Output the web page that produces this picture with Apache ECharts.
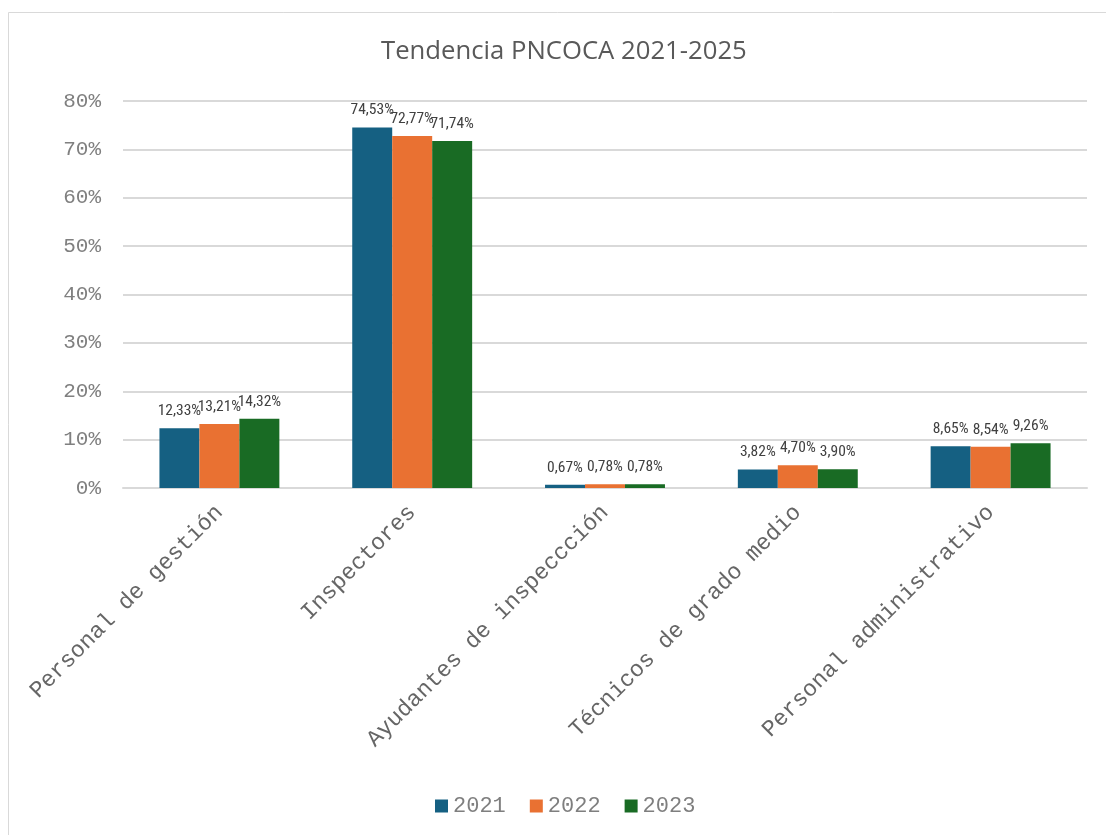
<!DOCTYPE html>
<html>
<head>
<meta charset="utf-8">
<script src="https://cdn.jsdelivr.net/npm/echarts@6/dist/echarts.min.js"></script>
<style>
html,body{margin:0;padding:0;background:#fff;}
#chart{width:1106px;height:835px;}
</style>
</head>
<body>
<div id="chart"></div>
<script>
const titleText = 'Tendencia PNCOCA 2021-2025';
const categories = ['Personal de gestión', 'Inspectores', 'Ayudantes de inspeccción', 'Técnicos de grado medio', 'Personal administrativo'];
const seriesNames = ['2021', '2022', '2023'];
const values2021 = [12.33, 74.53, 0.67, 3.82, 8.65];
const values2022 = [13.21, 72.77, 0.78, 4.70, 8.54];
const values2023 = [14.32, 71.74, 0.78, 3.90, 9.26];
const seriesColors = ['#156082', '#E97132', '#196B24'];

const allValues = [values2021, values2022, values2023];
const chart = echarts.init(document.getElementById('chart'), null, {renderer: 'canvas'});

const labelFont = '"Roboto Condensed", "Liberation Sans Narrow", "Arial Narrow", sans-serif';
const monoFont = '"Liberation Mono", "Courier New", monospace';

const series = seriesNames.map((name, i) => ({
  name: name,
  type: 'bar',
  data: allValues[i],
  barGap: '0%',
  barCategoryGap: '37.8%',
  itemStyle: {color: seriesColors[i]},
  label: {
    show: true,
    position: 'top',
    distance: 9,
    color: '#404040',
    fontFamily: labelFont,
    fontSize: 15.5,
    formatter: p => p.value.toFixed(2).replace('.', ',') + '%'
  }
}));

chart.setOption({
  backgroundColor: '#ffffff',
  animation: false,
  graphic: [{
    type: 'rect',
    silent: true,
    z: -10,
    shape: {x: 8.5, y: 12.5, width: 1200, height: 1000},
    style: {fill: 'none', stroke: '#d9d9d9', lineWidth: 1}
  }],
  title: {
    text: titleText,
    left: 376,
    top: 34,
    textStyle: {
      fontFamily: '"Open Sans", "Noto Sans", sans-serif',
      fontWeight: 'normal',
      fontSize: 25.7,
      color: '#595959'
    }
  },
  legend: {
    data: seriesNames,
    left: 430,
    top: 790,
    itemWidth: 13,
    itemHeight: 13,
    itemGap: 24,
    icon: 'rect',
    textStyle: {
      fontFamily: monoFont,
      fontSize: 22,
      color: '#7f7f7f'
    }
  },
  grid: {
    left: 123,
    right: 19,
    top: 101,
    bottom: 347,
    containLabel: false
  },
  xAxis: {
    type: 'category',
    data: categories,
    axisLine: {show: true, lineStyle: {color: '#d9d9d9', width: 2}},
    axisTick: {show: false},
    axisLabel: {
      rotate: 45,
      interval: 0,
      margin: 21,
      fontFamily: monoFont,
      fontSize: 23,
      color: '#666666'
    }
  },
  yAxis: {
    type: 'value',
    min: 0,
    max: 80,
    interval: 10,
    axisLine: {show: false},
    axisTick: {show: false},
    splitLine: {lineStyle: {color: '#d9d9d9', width: 2}},
    axisLabel: {
      margin: 22,
      formatter: '{value}%',
      fontFamily: monoFont,
      fontSize: 21,
      color: '#808080'
    }
  },
  series: series
});
</script>
</body>
</html>
